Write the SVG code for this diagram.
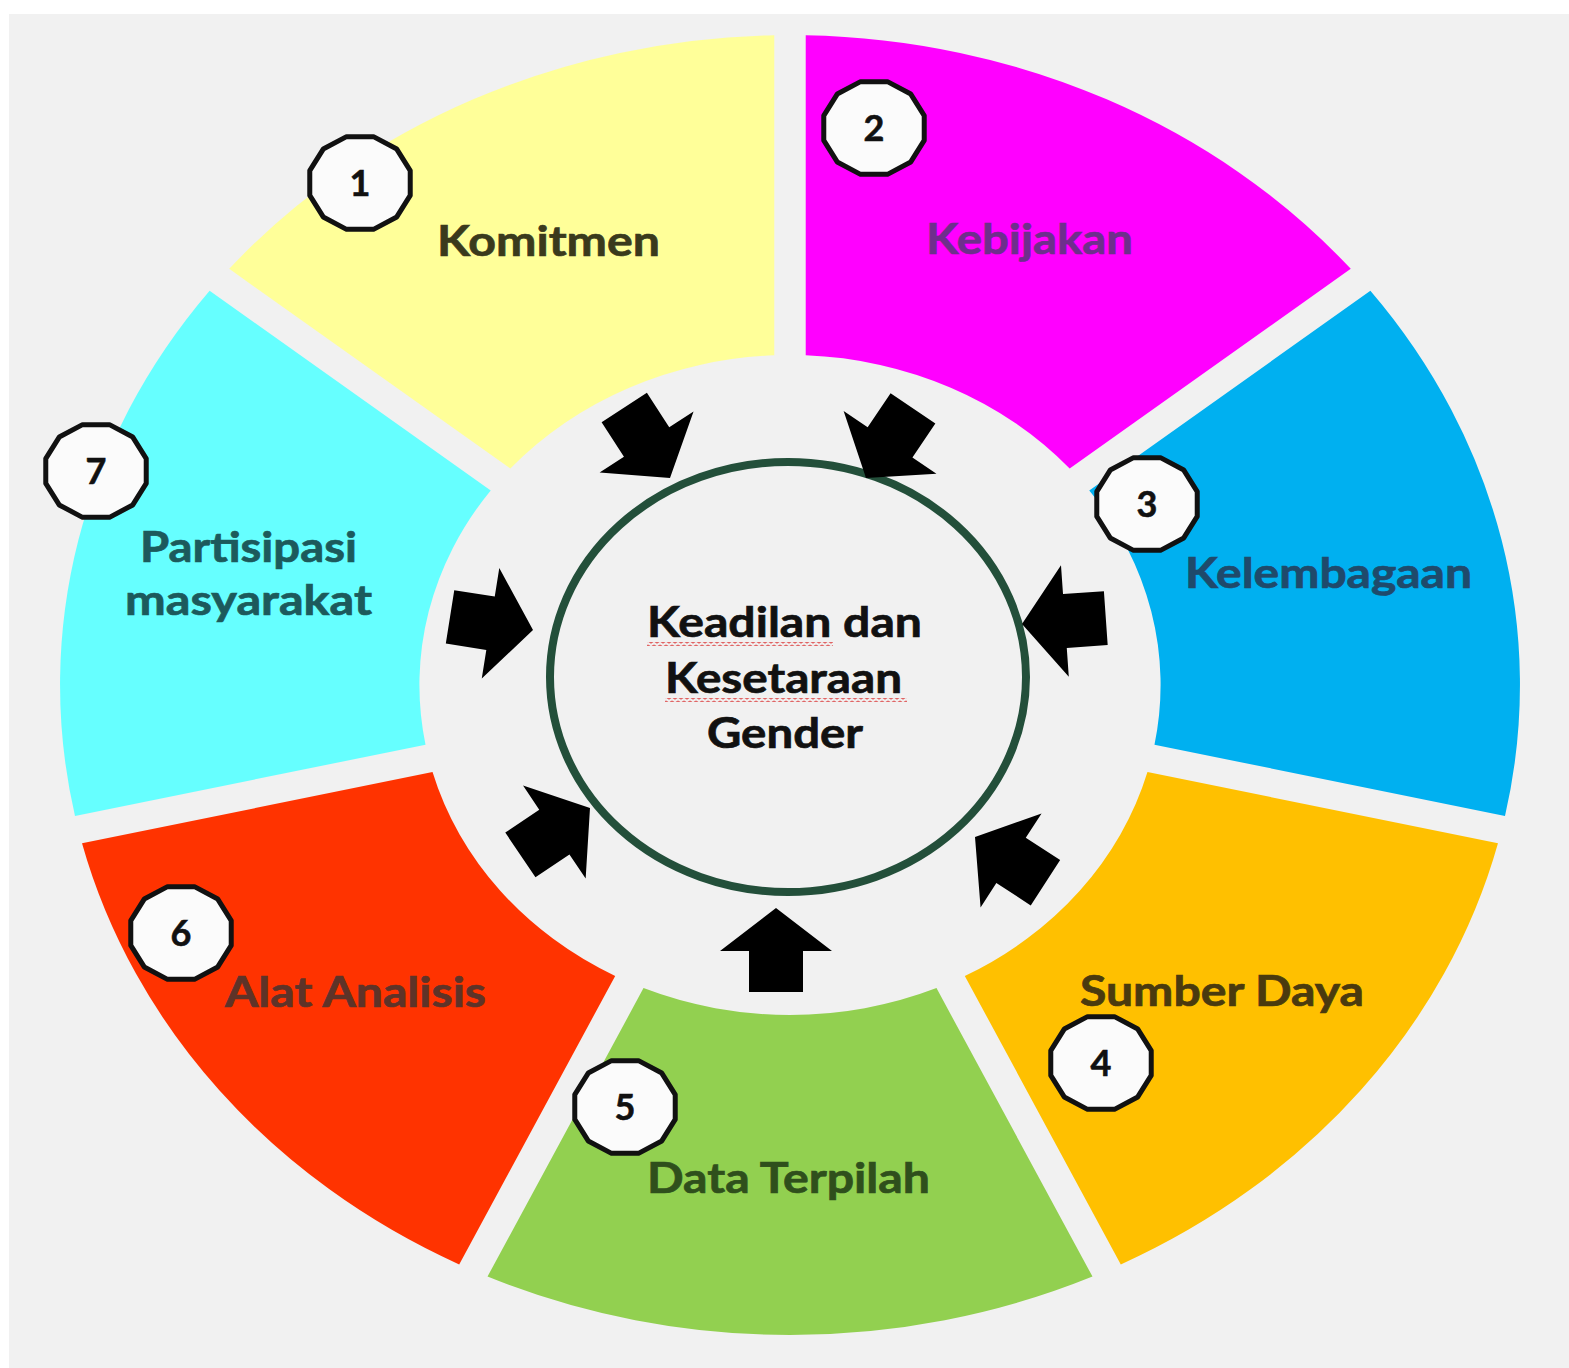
<svg xmlns="http://www.w3.org/2000/svg" xmlns:xlink="http://www.w3.org/1999/xlink" width="1569" height="1368" viewBox="0 0 1569 1368">
  <style>
    .lbl { font-family: Lato, "Open Sans", "Liberation Sans", sans-serif; font-weight: 700; font-size: 42px; stroke-width: 0.7; }
    .num { font-family: Lato, "Open Sans", "Liberation Sans", sans-serif; font-weight: 700; font-size: 36px; fill: #111; stroke: #111; stroke-width: 0.6; text-anchor: middle; }
    .badge { fill: #fbfbfb; stroke: #111; stroke-width: 5; stroke-linejoin: round; }
    .arrow { fill: #000; }
  </style>
  <defs>
    <polygon id="badge" class="badge" points="50.23,12.42 36.77,33.94 13.46,46.36 -13.46,46.36 -36.77,33.94 -50.23,12.42 -50.23,-12.42 -36.77,-33.94 -13.46,-46.36 13.46,-46.36 36.77,-33.94 50.23,-12.42"/>
    <polygon id="arr" points="0,0 -43,-56 -43,-27 -84,-27 -84,27 -43,27 -43,56"/>
    <pattern id="wavy" width="6" height="4" patternUnits="userSpaceOnUse">
      <path d="M0,1 L3,3 L6,1" fill="none" stroke="#e06060" stroke-width="1.2"/>
    </pattern>
  </defs>

  <rect x="0" y="0" width="1569" height="1368" fill="#ffffff"/>
  <rect x="9" y="14" width="1560" height="1354" fill="#f1f1f1"/>

  <g id="node-komitmen">
    <path transform="translate(790 685) scale(1.123 1)" fill="#ffff99" d="M -499.35,-416.13 A 650 650 0 0 1 -14,-649.85 L -14,-329.70 A 330 330 0 0 0 -249.04,-216.52 Z"/>
    <text class="lbl" x="437" y="256" textLength="223" lengthAdjust="spacingAndGlyphs" fill="#3a3a1c" stroke="#3a3a1c">Komitmen</text>
    <use href="#badge" x="360" y="183"/>
    <text class="num" x="360" y="196">1</text>
  </g>

  <g id="node-kebijakan">
    <path transform="translate(790 685) scale(1.123 1)" fill="#ff00ff" d="M 14,-649.85 A 650 650 0 0 1 499.35,-416.13 L 249.04,-216.52 A 330 330 0 0 0 14,-329.70 Z"/>
    <text class="lbl" x="926" y="254" textLength="207" lengthAdjust="spacingAndGlyphs" fill="#6e2f8c" stroke="#6e2f8c">Kebijakan</text>
    <use href="#badge" x="874" y="128"/>
    <text class="num" x="874" y="141">2</text>
  </g>

  <g id="node-kelembagaan">
    <path transform="translate(790 685) scale(1.123 1)" fill="#00b0f0" d="M 516.81,-394.23 A 650 650 0 0 1 636.68,130.95 L 324.55,59.71 A 330 330 0 0 0 266.50,-194.62 Z"/>
    <text class="lbl" x="1185" y="588" textLength="287" lengthAdjust="spacingAndGlyphs" fill="#1f4a6b" stroke="#1f4a6b">Kelembagaan</text>
    <use href="#badge" x="1147" y="504"/>
    <text class="num" x="1147" y="517">3</text>
  </g>

  <g id="node-sumber-daya">
    <path transform="translate(790 685) scale(1.123 1)" fill="#ffc000" d="M 630.44,158.25 A 650 650 0 0 1 294.57,579.42 L 155.66,290.98 A 330 330 0 0 0 318.31,87.01 Z"/>
    <text class="lbl" x="1080" y="1006" textLength="284" lengthAdjust="spacingAndGlyphs" fill="#4a3a0e" stroke="#4a3a0e">Sumber Daya</text>
    <use href="#badge" x="1101" y="1063"/>
    <text class="num" x="1101" y="1076">4</text>
  </g>

  <g id="node-data-terpilah">
    <path transform="translate(790 685) scale(1.123 1)" fill="#92d050" d="M 269.35,591.56 A 650 650 0 0 1 -269.35,591.56 L -130.44,303.12 A 330 330 0 0 0 130.44,303.12 Z"/>
    <text class="lbl" x="647" y="1193" textLength="283" lengthAdjust="spacingAndGlyphs" fill="#2f4f1c" stroke="#2f4f1c">Data Terpilah</text>
    <use href="#badge" x="625" y="1107"/>
    <text class="num" x="625" y="1120">5</text>
  </g>

  <g id="node-alat-analisis">
    <path transform="translate(790 685) scale(1.123 1)" fill="#ff3300" d="M -294.57,579.42 A 650 650 0 0 1 -630.44,158.25 L -318.31,87.01 A 330 330 0 0 0 -155.66,290.98 Z"/>
    <text class="lbl" x="225" y="1007" textLength="261" lengthAdjust="spacingAndGlyphs" fill="#5e3328" stroke="#5e3328">Alat Analisis</text>
    <use href="#badge" x="181" y="933"/>
    <text class="num" x="181" y="946">6</text>
  </g>

  <g id="node-partisipasi">
    <path transform="translate(790 685) scale(1.123 1)" fill="#66ffff" d="M -636.68,130.95 A 650 650 0 0 1 -516.81,-394.23 L -266.50,-194.62 A 330 330 0 0 0 -324.55,59.71 Z"/>
    <text class="lbl" x="140" y="562" textLength="217" lengthAdjust="spacingAndGlyphs" fill="#1c5a5c" stroke="#1c5a5c">Partisipasi</text>
    <text class="lbl" x="125" y="615" textLength="247" lengthAdjust="spacingAndGlyphs" fill="#1c5a5c" stroke="#1c5a5c">masyarakat</text>
    <use href="#badge" x="96" y="471"/>
    <text class="num" x="96" y="484">7</text>
  </g>

  <g id="node-center">
    <ellipse cx="788" cy="677" rx="238" ry="215" fill="none" stroke="#234f3a" stroke-width="8"/>
    <text class="lbl" x="647" y="637" textLength="275" lengthAdjust="spacingAndGlyphs" fill="#111" stroke="#111">Keadilan dan</text>
    <text class="lbl" x="665" y="693" textLength="237" lengthAdjust="spacingAndGlyphs" fill="#111" stroke="#111">Kesetaraan</text>
    <text class="lbl" x="707" y="748" textLength="156" lengthAdjust="spacingAndGlyphs" fill="#111" stroke="#111">Gender</text>
    <rect x="647" y="642" width="186" height="4" fill="url(#wavy)"/>
    <rect x="665" y="698" width="242" height="4" fill="url(#wavy)"/>
  </g>

  <g id="connectors" class="arrow">
    <use href="#arr" transform="translate(670 478) rotate(57)"/>
    <use href="#arr" transform="translate(866 478) rotate(124)"/>
    <use href="#arr" transform="translate(1022 624) rotate(176)"/>
    <use href="#arr" transform="translate(975 837) rotate(-147)"/>
    <use href="#arr" transform="translate(776 908) rotate(-90)"/>
    <use href="#arr" transform="translate(590 808) rotate(-34)"/>
    <use href="#arr" transform="translate(533 630) rotate(9)"/>
  </g>
</svg>
